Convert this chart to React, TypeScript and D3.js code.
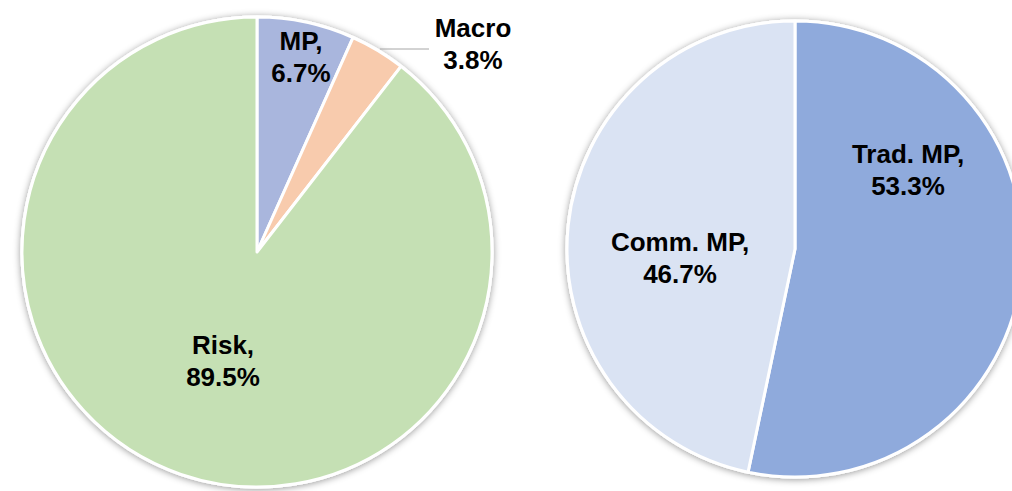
import React from 'react';
import * as d3 from 'd3';

// ---- data ----
const leftCategories = ['MP', 'Macro', 'Risk'];
const leftLabelNames = ['MP,', 'Macro', 'Risk,'];
const leftValues = [6.7, 3.8, 89.5];

const rightCategories = ['Trad. MP', 'Comm. MP'];
const rightLabelNames = ['Trad. MP,', 'Comm. MP,'];
const rightValues = [53.3, 46.7];

// ---- styles / layout ----
const leftColors = ['#A9B6DD', '#F8CBAD', '#C5E0B4'];
const rightColors = ['#8FAADC', '#DAE3F3'];

const W = 1012;
const H = 491;

const leftPie = { cx: 257, cy: 252, r: 235 };
const rightPie = { cx: 795, cy: 249, r: 228 };

// label anchor positions (center x, first-line baseline)
const leftLabelPos = [
  { x: 301, y: 50 },
  { x: 473, y: 37 },
  { x: 223, y: 354 },
];
const rightLabelPos = [
  { x: 908, y: 163 },
  { x: 680, y: 251 },
];

const LINE = 32;
const FONT = "'Liberation Sans', Arial, sans-serif";

type PieProps = {
  cx: number;
  cy: number;
  r: number;
  values: number[];
  colors: string[];
  names: string[];
  pos: { x: number; y: number }[];
};

function Pie({ cx, cy, r, values, colors, names, pos }: PieProps) {
  const pie = d3
    .pie<number>()
    .sort(null)
    .value((d) => d)
    .startAngle(0)
    .endAngle(2 * Math.PI);
  const arcs = pie(values);
  const arc = d3.arc<d3.PieArcDatum<number>>().innerRadius(0).outerRadius(r);
  return (
    <g>
      <g transform={`translate(${cx},${cy})`} filter="url(#shadow)">
        <circle r={r} fill="#fff" stroke="#fff" strokeWidth={3} />
        {arcs.map((a, i) => (
          <path
            key={i}
            d={arc(a) || ''}
            fill={colors[i]}
            stroke="#fff"
            strokeWidth={3}
            strokeLinejoin="round"
          />
        ))}
      </g>
      {arcs.map((a, i) => (
        <text
          key={'t' + i}
          x={pos[i].x}
          y={pos[i].y}
          textAnchor="middle"
          fontFamily={FONT}
          fontWeight="bold"
          fontSize={26}
          fill="#000"
        >
          <tspan x={pos[i].x} y={pos[i].y}>
            {names[i]}
          </tspan>
          <tspan x={pos[i].x} y={pos[i].y + LINE}>
            {d3.format('.1f')(values[i]) + '%'}
          </tspan>
        </text>
      ))}
    </g>
  );
}

export default function App() {
  // leader line for the Macro slice: from arc edge to label
  const macroArc = d3
    .pie<number>()
    .sort(null)
    .value((d) => d)(leftValues)[1];
  const midA = (macroArc.startAngle + macroArc.endAngle) / 2;
  const startX = leftPie.cx + Math.sin(midA) * (leftPie.r + 4);
  return (
    <svg
      width={W}
      height={H}
      style={{ position: 'absolute', left: 0, top: 0, display: 'block', background: '#fff' }}
    >
      <defs>
        <filter id="shadow" x="-10%" y="-10%" width="120%" height="120%">
          <feDropShadow dx="0" dy="1" stdDeviation="3.5" floodColor="#000" floodOpacity="0.4" />
        </filter>
      </defs>
      <rect width={W} height={H} fill="#fff" />
      <Pie
        {...leftPie}
        values={leftValues}
        colors={leftColors}
        names={leftLabelNames}
        pos={leftLabelPos}
      />
      <line
        x1={startX}
        y1={49}
        x2={429}
        y2={49}
        stroke="#A6A6A6"
        strokeWidth={1}
      />
      <Pie
        {...rightPie}
        values={rightValues}
        colors={rightColors}
        names={rightLabelNames}
        pos={rightLabelPos}
      />
    </svg>
  );
}
